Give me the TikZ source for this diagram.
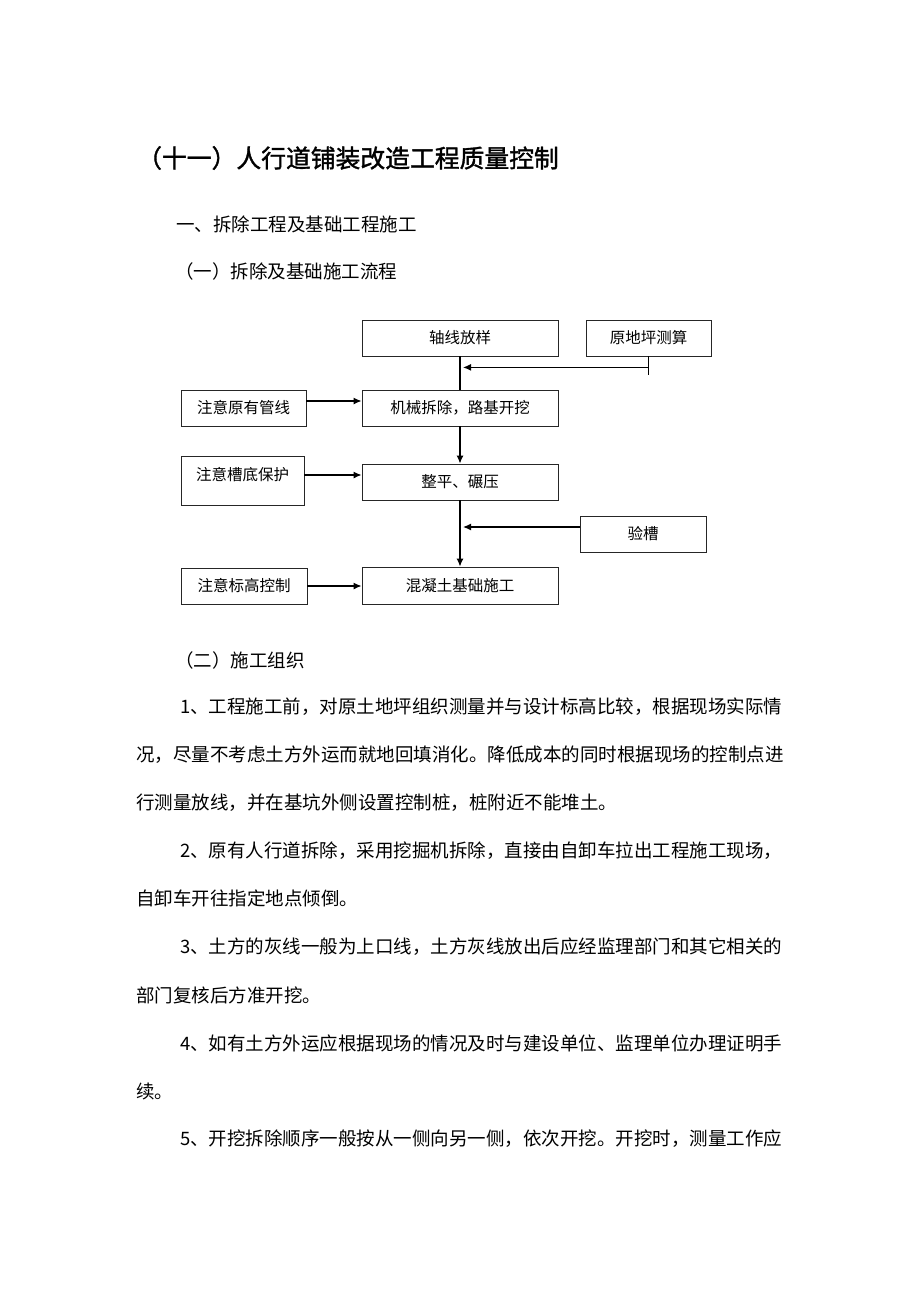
\documentclass[tikz,border=0pt]{standalone}
\usepackage{fontspec}
\usepackage{tikz}
\usetikzlibrary{arrows.meta}
\newfontfamily\cjk{Noto Sans CJK SC}
\newfontfamily\cjkhei[FakeBold=1.5]{Noto Sans CJK SC}

% font sizes (picture is drawn in 1pt = 1px units)
\def\titlefont{\cjkhei\fontsize{24.8}{24.8}\selectfont}
\def\bodyfont{\cjk\fontsize{18.5}{18.5}\selectfont}
\def\boxfont{\cjk\fontsize{15.5}{15.5}\selectfont}

\begin{document}
\begin{tikzpicture}[x=1pt,y=-1pt,
  txt/.style={anchor=west,inner sep=0pt,font=\bodyfont},
  box/.style={draw=black!85,line width=0.8pt,minimum height=36pt,inner sep=0pt,font=\boxfont},
  arr/.style={-{Latex[length=8pt,width=7pt]},line width=1.3pt}]

% page
\fill[white] (0,0) rectangle (920,1302);
\useasboundingbox (0,0) rectangle (920,1302);

% headings
\node[txt,font=\titlefont] (title) at (137,158) {（十一）人行道铺装改造工程质量控制};
\node[txt] (sec1) at (176,224) {一、拆除工程及基础工程施工};
\node[txt] (sub1) at (175,271) {（一）拆除及基础施工流程};

% main column of the flow
\node[box,minimum width=196pt] (axis) at (460,338) {轴线放样};
\node[box,minimum width=196pt] (demolish) at (460,408) {机械拆除，路基开挖};
\node[box,minimum width=196pt] (level) at (460,482) {整平、碾压};
\node[box,minimum width=196pt,minimum height=37pt] (concrete) at (460,585.5) {混凝土基础施工};

% side boxes
\node[box,minimum width=125pt] (survey) at (648.5,338) {原地坪测算};
\node[box,minimum width=126pt] (trench) at (643,534) {验槽};
\node[box,minimum width=125pt] (pipes) at (243.5,408) {注意原有管线};
\node[box,minimum width=123pt,minimum height=49pt,text depth=13pt] (bottom) at (242.5,480.5) {注意槽底保护};
\node[box,minimum width=126pt] (height) at (244,586) {注意标高控制};

% main line
\draw[line width=1.3pt] (axis) -- (demolish);
\draw[arr] (demolish) -- (level);
\draw[arr] (level) -- (concrete);

% survey feeds in between axis and demolish (yshift is in page pt, up is +)
\coordinate (tick) at ([yshift=-19pt]survey.south);
\draw[line width=1.3pt] (survey.south) -- (tick);
\draw[arr] ([yshift=-11pt]survey.south) -- ([yshift=-11pt,xshift=3pt]survey.south -| axis.south);

% trench check feeds in between level and concrete
\draw[arr] ([yshift=7pt]trench.west) -- ([yshift=7pt,xshift=3pt]trench.west -| level.south);

% notes on the left
\draw[arr] ([yshift=7pt]pipes.east) -- ([yshift=7pt]pipes.east -| demolish.west);
\draw[arr] ([yshift=5.5pt]bottom.east) -- ([yshift=5.5pt]bottom.east -| level.west);
\draw[arr] (height.east) -- (height.east -| concrete.west);

% body text
\node[txt] (sub2) at (175,660) {（二）施工组织};
\node[txt] (p1a) at (180,707) {1、工程施工前，对原土地坪组织测量并与设计标高比较，根据现场实际情};
\node[txt] (p1b) at (136,755) {况，尽量不考虑土方外运而就地回填消化。降低成本的同时根据现场的控制点进};
\node[txt] (p1c) at (136,803) {行测量放线，并在基坑外侧设置控制桩，桩附近不能堆土。};
\node[txt] (p2a) at (180,851) {2、原有人行道拆除，采用挖掘机拆除，直接由自卸车拉出工程施工现场，};
\node[txt] (p2b) at (136,898) {自卸车开往指定地点倾倒。};
\node[txt] (p3a) at (180,947) {3、土方的灰线一般为上口线，土方灰线放出后应经监理部门和其它相关的};
\node[txt] (p3b) at (136,995) {部门复核后方准开挖。};
\node[txt] (p4a) at (180,1043) {4、如有土方外运应根据现场的情况及时与建设单位、监理单位办理证明手};
\node[txt] (p4b) at (136,1091) {续。};
\node[txt] (p5a) at (180,1139) {5、开挖拆除顺序一般按从一侧向另一侧，依次开挖。开挖时，测量工作应};

\end{tikzpicture}
\end{document}
